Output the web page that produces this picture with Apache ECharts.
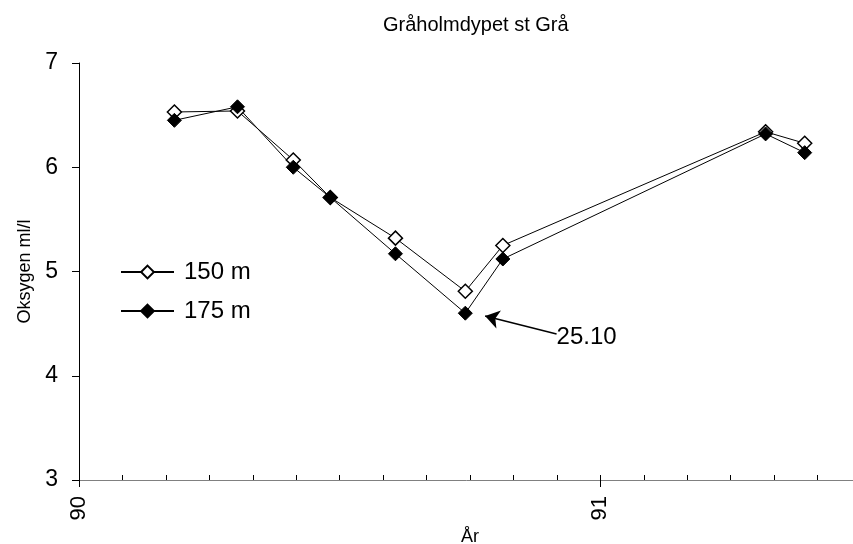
<!DOCTYPE html>
<html>
<head>
<meta charset="utf-8">
<script src="https://cdn.jsdelivr.net/npm/echarts@6/dist/echarts.min.js"></script>
<style>
  html, body { margin: 0; padding: 0; background: #fff; }
  #chart { width: 853px; height: 544px; }
</style>
</head>
<body>
<div id="chart"></div>
<script>
// sampling dates as fractional years
const years = [90.183, 90.304, 90.411, 90.482, 90.607, 90.741, 90.813, 91.317, 91.392];
const oxy150 = [6.53, 6.54, 6.07, 5.71, 5.32, 4.81, 5.25, 6.34, 6.23];
const oxy175 = [6.45, 6.58, 6.00, 5.71, 5.17, 4.60, 5.12, 6.32, 6.14];
const seriesNames = ['150 m', '175 m'];

// arrow pointing at the 25.10 minimum
const arrowFrom = [90.779, 4.573];
const arrowTo = [90.916, 4.40];
const arrowLabel = '25.10';

const font = 'Liberation Sans, Arial, sans-serif';

const chart = echarts.init(document.getElementById('chart'));
chart.setOption({
  animation: false,
  backgroundColor: '#fff',
  textStyle: {fontFamily: font, color: '#000'},
  title: {
    text: 'Gråholmdypet st Grå',
    left: 378,
    top: 10,
    textStyle: {fontSize: 20, fontWeight: 'normal', color: '#000', fontFamily: font},
  },
  legend: {
    orient: 'vertical',
    left: 120,
    top: 260,
    padding: 0,
    itemWidth: 53,
    itemHeight: 16,
    itemGap: 15,
    textStyle: {fontSize: 24, color: '#000', fontFamily: font, padding: [0, 0, 0, 5]},
    data: seriesNames,
  },
  grid: {left: 79, top: 63, bottom: 64, right: -8, containLabel: false, outerBoundsMode: 'none'},
  xAxis: [
    {
      type: 'value',
      position: 'bottom',
      min: 90,
      max: 91.5,
      interval: 1,
      name: 'År',
      nameLocation: 'middle',
      nameGap: 43,
      nameTextStyle: {fontSize: 18, color: '#000'},
      axisLine: {lineStyle: {color: '#808080', width: 1}},
      axisTick: {length: 7, lineStyle: {color: '#000'}},
      axisLabel: {
        rotate: 90,
        fontSize: 22,
        color: '#000',
        margin: 16,
        formatter: v => Math.abs(v - Math.round(v)) < 1e-6 ? String(Math.round(v)) : '',
      },
      splitLine: {show: false},
    },
    {
      type: 'value',
      position: 'bottom',
      min: 90,
      max: 91.5,
      interval: 1 / 12,
      axisLine: {show: false},
      axisTick: {inside: true, length: 5, lineStyle: {color: '#000'}},
      axisLabel: {show: false},
      splitLine: {show: false},
    },
  ],
  yAxis: {
    type: 'value',
    min: 3,
    max: 7,
    interval: 1,
    name: 'Oksygen ml/l',
    nameLocation: 'middle',
    nameGap: 40,
    nameTextStyle: {fontSize: 18, color: '#000'},
    axisLine: {show: true, lineStyle: {color: '#000', width: 1}},
    axisTick: {show: true, length: 7, lineStyle: {color: '#000'}},
    axisLabel: {fontSize: 23, color: '#000', margin: 21},
    splitLine: {show: false},
  },
  series: [
    {
      name: seriesNames[0],
      type: 'line',
      data: years.map((x, i) => [x, oxy150[i]]),
      symbol: 'diamond',
      symbolSize: 14,
      itemStyle: {color: '#fff', borderColor: '#000', borderWidth: 1.5},
      lineStyle: {color: '#000', width: 1},
    },
    {
      name: seriesNames[1],
      type: 'line',
      data: years.map((x, i) => [x, oxy175[i]]),
      symbol: 'diamond',
      symbolSize: 14,
      itemStyle: {color: '#000', borderColor: '#000', borderWidth: 1},
      lineStyle: {color: '#000', width: 1},
      markLine: {
        silent: true,
        symbol: ['arrow', 'none'],
        symbolSize: 14,
        lineStyle: {color: '#000', width: 1.5, type: 'solid'},
        label: {show: false},
        data: [[{coord: arrowFrom}, {coord: arrowTo}]],
      },
      markPoint: {
        silent: true,
        symbol: 'circle',
        symbolSize: 0,
        label: {
          show: true,
          position: 'right',
          distance: 0,
          offset: [0, 3],
          fontSize: 24,
          color: '#000',
          formatter: arrowLabel,
        },
        data: [{coord: arrowTo}],
      },
    },
  ],
});
</script>
</body>
</html>
